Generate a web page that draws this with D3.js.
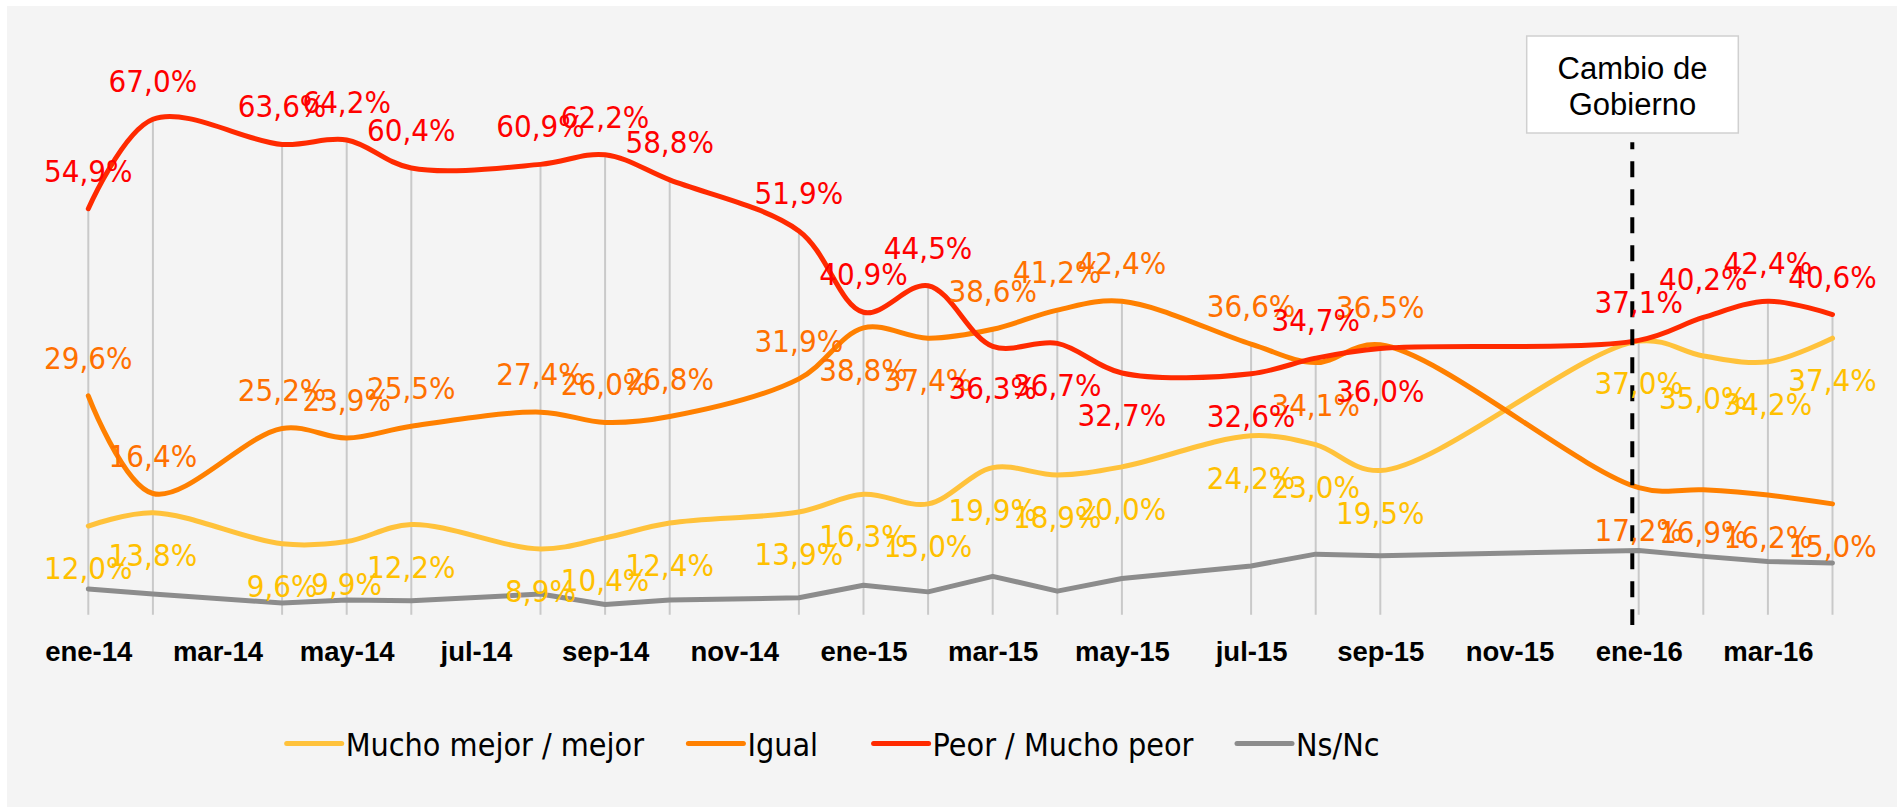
<!DOCTYPE html>
<html>
<head>
<meta charset="utf-8">
<script src="https://cdn.jsdelivr.net/npm/d3@7"></script>
<style>
  body { margin: 0; background: #fff; }
  svg { display: block; }
</style>
</head>
<body>
<script>
// fechas de cada encuesta (año-mes)
var fechas = ["2014-01", "2014-02", "2014-04", "2014-05", "2014-06", "2014-08", "2014-09", "2014-10",
    "2014-12", "2015-01", "2015-02", "2015-03", "2015-04", "2015-05", "2015-07", "2015-08",
    "2015-09", "2016-01", "2016-02", "2016-03", "2016-04"];

var mejor = [12.0, 13.8, 9.6, 9.9, 12.2, 8.9, 10.4, 12.4, 13.9, 16.3, 15.0, 19.9, 18.9, 20.0,
    24.2, 23.0, 19.5, 37.0, 35.0, 34.2, 37.4];
var igual = [29.6, 16.4, 25.2, 23.9, 25.5, 27.4, 26.0, 26.8, 31.9, 38.8, 37.4, 38.6, 41.2, 42.4,
    36.6, 34.1, 36.5, 17.2, 16.9, 16.2, 15.0];
var peor = [54.9, 67.0, 63.6, 64.2, 60.4, 60.9, 62.2, 58.8, 51.9, 40.9, 44.5, 36.3, 36.7, 32.7,
    32.6, 34.7, 36.0, 37.1, 40.2, 42.4, 40.6];
var nsnc = [3.5, 2.8, 1.6, 2.0, 1.9, 2.8, 1.4, 2.0, 2.3, 4.0, 3.1, 5.2, 3.2, 4.9,
    6.6, 8.2, 8.0, 8.7, 7.9, 7.2, 7.0];

var tickLabels = ["ene-14", "mar-14", "may-14", "jul-14", "sep-14", "nov-14", "ene-15",
    "mar-15", "may-15", "jul-15", "sep-15", "nov-15", "ene-16", "mar-16"];

// etiquetas que van debajo / encima del punto
var peorDebajo = ["2015-03", "2015-04", "2015-05", "2015-07", "2015-09"];
var igualArriba = ["2014-01", "2014-02", "2014-04", "2014-05", "2014-06", "2014-08", "2014-09",
    "2014-10", "2014-12", "2015-03", "2015-04", "2015-05", "2015-07", "2015-09"];

function mesIndex(f) {
    var p = f.split("-");
    return (+p[0] - 2014) * 12 + (+p[1] - 1);
}

var W = 1904, H = 810;
var svg = d3.select("body").append("svg")
    .attr("width", W)
    .attr("height", H);

svg.append("rect")
    .attr("x", 7).attr("y", 6)
    .attr("width", 1890).attr("height", 801)
    .style("fill", "#f4f4f4");

var x = d3.scaleLinear().domain([0, 27]).range([88.3, 1832.5]);
var y = d3.scaleLinear().domain([0, 80]).range([614.8, 23.1]);

var series = [
    { name: "Mucho mejor / mejor", values: mejor, color: "#ffc23b", label: "#ffc000", smooth: true },
    { name: "Igual", values: igual, color: "#ff8000", label: "#ff7000", smooth: true },
    { name: "Peor / Mucho peor", values: peor, color: "#ff2a00", label: "#ff0000", smooth: true },
    { name: "Ns/Nc", values: nsnc, color: "#8c8c8c", label: null, smooth: false }
];

// lineas de caida
svg.append("g").selectAll("line")
    .data(fechas)
    .join("line")
    .attr("x1", function(d) { return x(mesIndex(d)); })
    .attr("x2", function(d) { return x(mesIndex(d)); })
    .attr("y1", function(d, i) { return y(Math.max(mejor[i], igual[i], peor[i], nsnc[i])); })
    .attr("y2", y(0))
    .style("stroke", "#c9c9c9")
    .style("stroke-width", 2);

// eje x
var axis = svg.append("g")
    .attr("transform", "translate(0,641)")
    .call(d3.axisBottom(x)
        .tickValues(d3.range(0, 27, 2))
        .tickFormat(function(d, i) { return tickLabels[i]; })
        .tickSize(0)
        .tickPadding(0));
axis.select(".domain").remove();
axis.selectAll("text")
    .style("font-family", "'Liberation Sans', Arial, sans-serif")
    .style("font-weight", "bold")
    .style("font-size", "27.5px")
    .style("fill", "#000");

// lineas
series.forEach(function(s) {
    var line = d3.line()
        .x(function(d, i) { return x(mesIndex(fechas[i])); })
        .y(function(d) { return y(d); })
        .curve(s.smooth ? d3.curveCatmullRom.alpha(0.5) : d3.curveLinear);
    svg.append("path")
        .datum(s.values)
        .attr("d", line)
        .style("fill", "none")
        .style("stroke", s.color)
        .style("stroke-width", 5)
        .style("stroke-linecap", "round")
        .style("stroke-linejoin", "round");
});

// linea de cambio de gobierno
svg.append("line")
    .attr("x1", 1632.3).attr("x2", 1632.3)
    .attr("y1", 142.3).attr("y2", 625)
    .style("stroke", "#000")
    .style("stroke-width", 4)
    .style("stroke-dasharray", "16,12")
    .style("stroke-dashoffset", 9);

svg.append("rect")
    .attr("x", 1526.7).attr("y", 36)
    .attr("width", 211.6).attr("height", 97)
    .style("fill", "#fff")
    .style("stroke", "#d0d0d0")
    .style("stroke-width", 1.5);

svg.append("text")
    .attr("x", 1632.5).attr("y", 79)
    .attr("text-anchor", "middle")
    .style("font-family", "'Liberation Sans', Arial, sans-serif")
    .style("font-size", "31px")
    .text("Cambio de");
svg.append("text")
    .attr("x", 1632.5).attr("y", 115)
    .attr("text-anchor", "middle")
    .style("font-family", "'Liberation Sans', Arial, sans-serif")
    .style("font-size", "31px")
    .text("Gobierno");

// etiquetas de datos
function debajo(s, f) {
    if (s.name === "Mucho mejor / mejor") return true;
    if (s.name === "Igual") return igualArriba.indexOf(f) < 0;
    return peorDebajo.indexOf(f) >= 0;
}

series.filter(function(s) { return s.label; }).forEach(function(s) {
    svg.append("g").selectAll("text")
        .data(s.values)
        .join("text")
        .attr("x", function(d, i) { return x(mesIndex(fechas[i])); })
        .attr("y", function(d, i) { return y(d) + (debajo(s, fechas[i]) ? 53 : -27); })
        .attr("text-anchor", "middle")
        .style("font-family", "'DejaVu Sans Condensed', 'DejaVu Sans', sans-serif")
        .style("font-stretch", "condensed")
        .style("font-size", "31px")
        .style("fill", s.label)
        .text(function(d) { return d.toFixed(1).replace(".", ",") + "%"; });
});

// leyenda
var legendX = [286.7, 688.4, 873.6, 1237];
var legend = svg.append("g").selectAll("g")
    .data(series)
    .join("g")
    .attr("transform", function(d, i) { return "translate(" + legendX[i] + ",743.5)"; });
legend.append("line")
    .attr("x1", 0).attr("x2", 55)
    .style("stroke", function(d) { return d.color; })
    .style("stroke-width", 5)
    .style("stroke-linecap", "round");
legend.append("text")
    .attr("x", 59).attr("y", 12.5)
    .style("font-family", "'DejaVu Sans Condensed', 'DejaVu Sans', sans-serif")
    .style("font-stretch", "condensed")
    .style("font-size", "32px")
    .style("fill", "#000")
    .text(function(d) { return d.name; });
</script>
</body>
</html>
